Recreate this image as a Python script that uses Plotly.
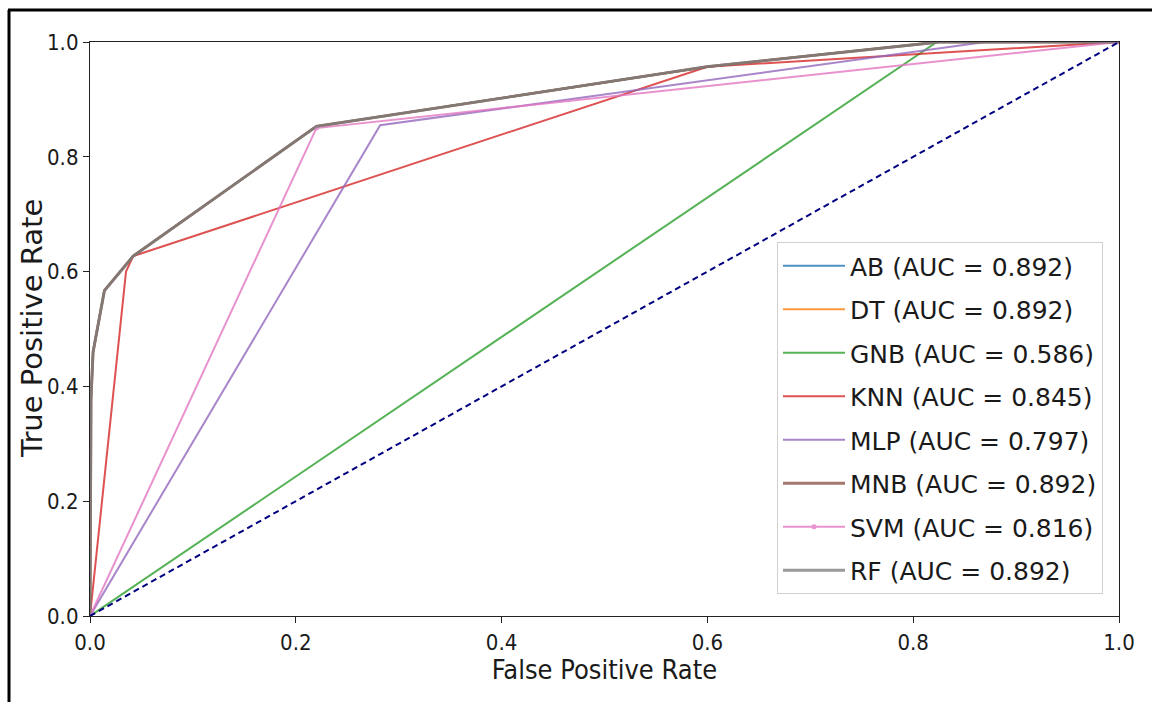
import plotly.graph_objects as go

# ROC curves
names = ["AB", "DT", "GNB", "KNN", "MLP", "MNB", "SVM", "RF"]
aucs = [0.892, 0.892, 0.586, 0.845, 0.797, 0.892, 0.816, 0.892]
colors = ["#1f77b4", "#ff7f0e", "#2ca02c", "#d62728", "#9467bd", "#8c564b", "#e377c2", "#7f7f7f"]

best_fpr = [0.0, 0.001, 0.003, 0.014, 0.042, 0.22, 0.60, 0.825, 1.0]
best_tpr = [0.0, 0.38, 0.46, 0.567, 0.627, 0.853, 0.957, 1.0, 1.0]

gnb_fpr = [0.0, 0.823, 1.0]
gnb_tpr = [0.0, 1.0, 1.0]

knn_fpr = [0.0, 0.035, 0.042, 0.60, 1.0]
knn_tpr = [0.0, 0.60, 0.627, 0.957, 1.0]

mlp_fpr = [0.0, 0.282, 0.87, 1.0]
mlp_tpr = [0.0, 0.855, 1.0, 1.0]

svm_fpr = [0.0, 0.22, 1.0]
svm_tpr = [0.0, 0.85, 1.0]

fprs = [best_fpr, best_fpr, gnb_fpr, knn_fpr, mlp_fpr, best_fpr, svm_fpr, best_fpr]
tprs = [best_tpr, best_tpr, gnb_tpr, knn_tpr, mlp_tpr, best_tpr, svm_tpr, best_tpr]

diag_x = [0.0, 1.0]
diag_y = [0.0, 1.0]

tick_vals = [0.0, 0.2, 0.4, 0.6, 0.8, 1.0]
tick_text = ["0.0", "0.2", "0.4", "0.6", "0.8", "1.0"]

fig = go.Figure()
for i, (n, a, c, fx, ty) in enumerate(zip(names, aucs, colors, fprs, tprs)):
    is_svm = n == "SVM"
    fig.add_trace(go.Scatter(
        x=fx, y=ty, mode="lines+markers" if is_svm else "lines",
        name=f"{n} (AUC = {a:.3f})",
        line=dict(color=c, width=2.8 if n in ("MNB", "RF") else 2),
        marker=dict(size=5, color=c) if is_svm else None,
        opacity=0.8,
        legendgroup=n,
    ))

fig.add_trace(go.Scatter(
    x=diag_x, y=diag_y, mode="lines", showlegend=False,
    line=dict(color="navy", width=2, dash="6px,4px"),
))

W, H = 1152, 702
L, R, T, B = 90, 1119, 42, 616


def px(x):
    return (x - L) / (R - L)


def py(y):
    return (B - y) / (B - T)


cond = "DejaVu Sans Condensed, Liberation Sans Narrow, DejaVu Sans"

fig.update_layout(
    width=W, height=H,
    margin=dict(l=L, r=W - R, t=T, b=H - B, pad=0),
    paper_bgcolor="white", plot_bgcolor="white",
    font=dict(family="DejaVu Sans", color="#1a1a1a"),
    showlegend=True,
    legend=dict(
        x=px(777), y=py(242), xanchor="left", yanchor="top",
        bgcolor="rgba(255,255,255,0.9)", bordercolor="#d0d0d0", borderwidth=1,
        font=dict(family="DejaVu Sans", size=25, color="#1a1a1a"),
        tracegroupgap=8, itemwidth=62,
    ),
    shapes=[
        dict(type="line", xref="paper", yref="paper", x0=px(8), x1=px(1152), y0=py(10), y1=py(10),
             line=dict(color="black", width=3)),
        dict(type="line", xref="paper", yref="paper", x0=px(9), x1=px(9), y0=py(10), y1=py(702),
             line=dict(color="black", width=3)),
    ],
    annotations=[
        dict(text="True Positive Rate", textangle=-90, xref="paper", yref="paper",
             x=px(32), y=py(329), xanchor="center", yanchor="middle", showarrow=False,
             font=dict(family="DejaVu Sans", size=29, color="#1a1a1a")),
    ],
)
fig.update_xaxes(
    range=[0, 1], tickvals=tick_vals, ticktext=tick_text,
    showgrid=False, zeroline=False, showline=True, mirror=True,
    linecolor="#222", linewidth=1.2, ticks="outside", ticklen=6, tickcolor="#222",
    tickfont=dict(family=cond, size=22, color="#1a1a1a"),
    title=dict(text="False Positive Rate", font=dict(family=cond, size=27, color="#1a1a1a"), standoff=6),
)
fig.update_yaxes(
    range=[0, 1], tickvals=tick_vals, ticktext=tick_text,
    showgrid=False, zeroline=False, showline=True, mirror=True,
    linecolor="#222", linewidth=1.2, ticks="outside", ticklen=6, tickcolor="#222",
    tickfont=dict(family=cond, size=22, color="#1a1a1a"),
)

fig.write_html("out.html")
